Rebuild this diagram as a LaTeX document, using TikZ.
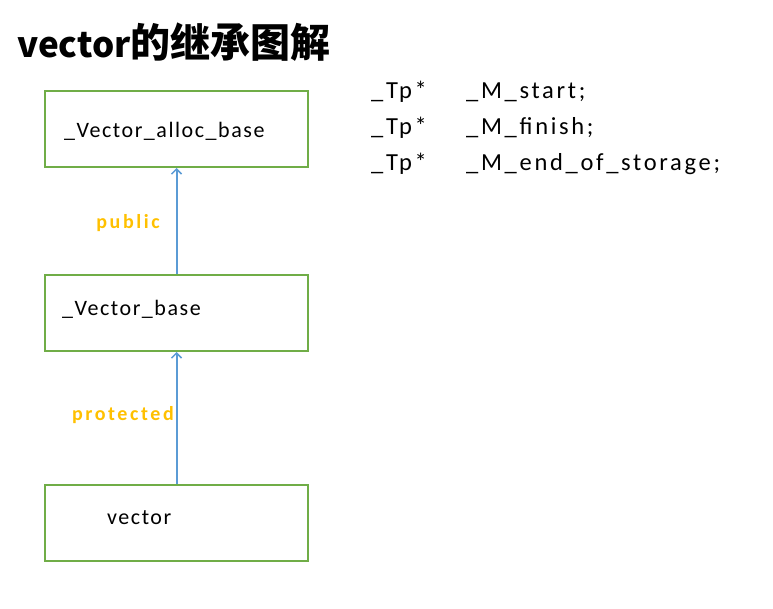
\documentclass[tikz,border=0pt]{standalone}
\usepackage{fontspec}
\setmainfont{Carlito}
\newfontfamily\cjk{Noto Sans CJK SC}
\newfontfamily\classfont{Carlito}[LetterSpace=7]
\newfontfamily\accessfont{Carlito}[LetterSpace=13]
\newfontfamily\memberfont{Carlito}[LetterSpace=11]
\usetikzlibrary{arrows.meta}
\definecolor{boxgreen}{RGB}{112,173,71}
\definecolor{arrowblue}{RGB}{91,155,213}
\definecolor{accorange}{RGB}{255,192,0}
\tikzset{
  classbox/.style={draw=boxgreen, line width=2pt, minimum width=263pt, minimum height=76pt, inner sep=0pt},
  classname/.style={anchor=west, inner sep=0pt, font=\classfont\fontsize{22}{26}\selectfont},
  inherit/.style={draw=arrowblue, line width=2pt, -{Straight Barb[length=5pt,width=10pt,line width=1.5pt]}},
  access/.style={anchor=east, inner sep=0pt, text=accorange, font=\accessfont\bfseries\fontsize{20}{24}\selectfont},
  member/.style={anchor=west, inner sep=0pt, font=\memberfont\fontsize{24.5}{29}\selectfont}
}
\begin{document}
\begin{tikzpicture}[x=1pt, y=-1pt]
    \useasboundingbox (0,0) rectangle (773,609);

    % Title
    \node[anchor=west, inner sep=0pt, font=\cjk\bfseries] (title) at (17,42)
        {\fontsize{35}{40}\selectfont vector\fontsize{40}{44}\selectfont 的继承图解};

    % Class boxes
    \node[classbox] (alloc) at (176.5,129) {};
    \node[classbox] (base) at (176.5,313) {};
    \node[classbox] (vec) at (176.5,523) {};

    \node[classname] (allocname) at (64,131) {\_Vector\_alloc\_base};
    \node[classname] (basename) at (62,309) {\_Vector\_base};
    \node[classname] (vecname) at (107,518) {vector};

    % Inheritance arrows
    \draw[inherit] (base.north) -- (alloc.south);
    \draw[inherit] (vec.north) -- (base.south);

    % Access labels
    \node[access] (public) at (160,223) {public};
    \node[access] (protected) at (174,415) {protected};

    % Members of _Vector_alloc_base
    \foreach \name [count=\i] in {start;, finish;, end\_of\_storage;} {
        \node[member] (type\i) at (371,56+36*\i) {\_Tp*};
        \node[member] (field\i) at (466,56+36*\i) {\_M\_\name};
    }
\end{tikzpicture}
\end{document}
